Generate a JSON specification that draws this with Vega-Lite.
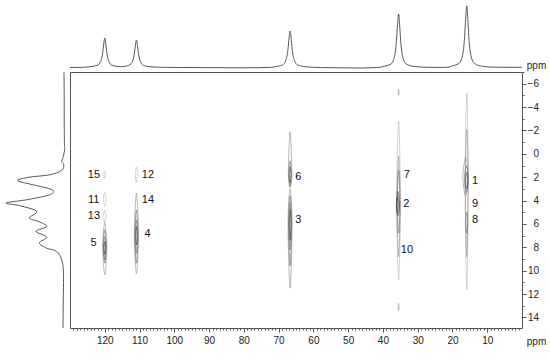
{
 "$schema": "https://vega.github.io/schema/vega-lite/v6.json",
 "background": "white",
 "padding": {"left": 0, "top": 3, "right": 0, "bottom": 4},
 "config": {"view": {"stroke": null}, "font": "Liberation Sans"},
 "columns": 2,
 "spacing": 3,
 "bounds": "flush",
 "concat": [
  {
   "width": 67, "height": 66,
   "data": {"values": [{"a": 0}]},
   "mark": {"type": "point", "opacity": 0},
   "encoding": {}
  },
  {
   "width": 452, "height": 66,
   "data": {"values": [
    {"x":130,"v":1.5},{"x":127,"v":1.6},
    {"x":124.5,"v":2.2},{"x":122.2,"v":3.6},{"x":121.2,"v":7.4},{"x":120.6,"v":16.2},{"x":120.3,"v":25},{"x":120,"v":31},{"x":119.7,"v":25},{"x":119.4,"v":16.2},{"x":118.8,"v":7.4},{"x":117.8,"v":3.6},{"x":115.5,"v":2.3},
    {"x":113.4,"v":3.3},{"x":112.1,"v":7},{"x":111.5,"v":15.3},{"x":111.2,"v":23.5},{"x":110.9,"v":29},{"x":110.6,"v":23.5},{"x":110.3,"v":15.3},{"x":109.7,"v":7},{"x":108.7,"v":3.3},{"x":106.4,"v":2.1},
    {"x":102,"v":1.6},{"x":98,"v":1.5},{"x":90,"v":1.4},{"x":82,"v":1.2},{"x":76,"v":1.3},{"x":72,"v":1.6},
    {"x":71.2,"v":2.2},{"x":68.9,"v":4.0},{"x":67.9,"v":8.8},{"x":67.3,"v":19.8},{"x":67.0,"v":30.7},{"x":66.7,"v":38},{"x":66.4,"v":30.7},{"x":66.1,"v":19.8},{"x":65.5,"v":8.8},{"x":64.5,"v":4.0},{"x":62.2,"v":2.2},
    {"x":58,"v":1.5},{"x":55,"v":1.3},{"x":50,"v":1.1},{"x":46,"v":1.0},{"x":43,"v":1.3},{"x":41,"v":1.6},
    {"x":40.0,"v":2.5},{"x":37.7,"v":5.0},{"x":36.7,"v":12.2},{"x":36.1,"v":28.3},{"x":35.8,"v":44.3},{"x":35.5,"v":55},{"x":35.2,"v":44.3},{"x":34.9,"v":28.3},{"x":34.3,"v":12.2},{"x":33.3,"v":5.0},{"x":31.0,"v":2.5},
    {"x":27,"v":1.7},{"x":23,"v":1.6},{"x":21,"v":1.8},
    {"x":20.4,"v":2.7},{"x":18.1,"v":5.6},{"x":17.1,"v":13.8},{"x":16.5,"v":32.3},{"x":16.2,"v":50.7},{"x":15.9,"v":63},{"x":15.6,"v":50.7},{"x":15.3,"v":32.3},{"x":14.7,"v":13.8},{"x":13.7,"v":5.6},{"x":11.4,"v":2.7},
    {"x":8,"v":1.8},{"x":4,"v":1.7},{"x":0,"v":1.7}
   ]},
   "mark": {"type": "line", "interpolate": "monotone", "color": "#444", "strokeWidth": 0.9},
   "encoding": {
    "x": {"field": "x", "type": "quantitative", "scale": {"domain": [0, 130], "reverse": true, "nice": false, "zero": false}, "axis": null},
    "y": {"field": "v", "type": "quantitative", "scale": {"domain": [0, 66], "nice": false}, "axis": null},
    "order": {"field": "x", "sort": "descending"}
   }
  },
  {
   "width": 67, "height": 256,
   "data": {"values": [
    {"y":-7,"v":3},{"y":-5,"v":2.8},{"y":-3,"v":2.8},{"y":-1,"v":2.6},{"y":-0.46,"v":2.2},{"y":0.22,"v":3.7},{"y":0.65,"v":5.3},{"y":0.93,"v":3.2},{"y":1.41,"v":5.3},{"y":1.79,"v":17},{"y":1.99,"v":37},{"y":2.28,"v":49.5},{"y":2.59,"v":37},{"y":3.0,"v":17},{"y":3.3,"v":13.7},{"y":3.58,"v":20.3},{"y":3.93,"v":40.3},{"y":4.21,"v":61},{"y":4.44,"v":47},{"y":4.92,"v":30.3},{"y":5.49,"v":37.7},{"y":5.78,"v":28.7},{"y":6.21,"v":20.3},{"y":6.63,"v":31},{"y":7.12,"v":20.3},{"y":7.63,"v":27.7},{"y":8.07,"v":20.3},{"y":8.35,"v":10.3},{"y":9.07,"v":5.3},{"y":9.92,"v":3.7},{"y":11,"v":3.5},{"y":13,"v":3.8},{"y":14.9,"v":4}
   ]},
   "mark": {"type": "line", "interpolate": "cardinal", "color": "#444", "strokeWidth": 0.9},
   "encoding": {
    "x": {"field": "v", "type": "quantitative", "scale": {"domain": [0, 67], "reverse": true, "nice": false}, "axis": null},
    "y": {"field": "y", "type": "quantitative", "scale": {"domain": [-7, 14.9], "reverse": true, "nice": false, "zero": false}, "axis": null},
    "order": {"field": "y"}
   }
  },
  {
   "width": 452, "height": 256,
   "view": {"stroke": "#555", "strokeWidth": 1},
   "layer": [
    {
     "data": {"values": [
      {"c":"A1","l":1,"o":0,"x":120,"y":1.5},{"c":"A1","l":1,"o":1,"x":119.75,"y":1.8},{"c":"A1","l":1,"o":2,"x":120,"y":2.1},{"c":"A1","l":1,"o":3,"x":120.25,"y":1.8},
      {"c":"A2","l":1,"o":0,"x":120,"y":3.3},{"c":"A2","l":1,"o":1,"x":119.65,"y":3.9},{"c":"A2","l":1,"o":2,"x":120,"y":4.5},{"c":"A2","l":1,"o":3,"x":120.35,"y":3.9},
      {"c":"A3","l":1,"o":0,"x":120,"y":4.8},{"c":"A3","l":1,"o":1,"x":119.65,"y":5.35},{"c":"A3","l":1,"o":2,"x":120,"y":5.9},{"c":"A3","l":1,"o":3,"x":120.35,"y":5.35},
      {"c":"A4","l":2,"o":0,"x":120,"y":5.9},{"c":"A4","l":2,"o":1,"x":119.4,"y":8.0},{"c":"A4","l":2,"o":2,"x":120,"y":10.35},{"c":"A4","l":2,"o":3,"x":120.6,"y":8.0},
      {"c":"A5","l":3,"o":0,"x":120,"y":6.5},{"c":"A5","l":3,"o":1,"x":119.55,"y":7.9},{"c":"A5","l":3,"o":2,"x":120,"y":9.35},{"c":"A5","l":3,"o":3,"x":120.45,"y":7.9},
      {"c":"A6","l":3,"o":0,"x":120,"y":7.07},{"c":"A6","l":3,"o":1,"x":119.68,"y":8.0},{"c":"A6","l":3,"o":2,"x":120,"y":9.07},{"c":"A6","l":3,"o":3,"x":120.32,"y":8.0},
      {"c":"A7","l":4,"o":0,"x":120,"y":7.5},{"c":"A7","l":4,"o":1,"x":119.8,"y":8.05},{"c":"A7","l":4,"o":2,"x":120,"y":8.6},{"c":"A7","l":4,"o":3,"x":120.2,"y":8.05},
      {"c":"B1","l":1,"o":0,"x":110.9,"y":1.13},{"c":"B1","l":1,"o":1,"x":110.6,"y":1.8},{"c":"B1","l":1,"o":2,"x":110.9,"y":2.44},{"c":"B1","l":1,"o":3,"x":111.2,"y":1.8},
      {"c":"B2","l":2,"o":0,"x":110.9,"y":3.36},{"c":"B2","l":2,"o":1,"x":110.3,"y":6.9},{"c":"B2","l":2,"o":2,"x":110.9,"y":10.26},{"c":"B2","l":2,"o":3,"x":111.5,"y":6.9},
      {"c":"B3","l":3,"o":0,"x":110.9,"y":4.8},{"c":"B3","l":3,"o":1,"x":110.45,"y":7.0},{"c":"B3","l":3,"o":2,"x":110.9,"y":9.35},{"c":"B3","l":3,"o":3,"x":111.35,"y":7.0},
      {"c":"B4","l":3,"o":0,"x":110.9,"y":5.65},{"c":"B4","l":3,"o":1,"x":110.58,"y":7.0},{"c":"B4","l":3,"o":2,"x":110.9,"y":8.5},{"c":"B4","l":3,"o":3,"x":111.22,"y":7.0},
      {"c":"B5","l":4,"o":0,"x":110.9,"y":6.2},{"c":"B5","l":4,"o":1,"x":110.7,"y":7.0},{"c":"B5","l":4,"o":2,"x":110.9,"y":7.8},{"c":"B5","l":4,"o":3,"x":111.1,"y":7.0},
      {"c":"C1","l":2,"o":0,"x":66.7,"y":-1.9},{"c":"C1","l":2,"o":1,"x":66.2,"y":1.5},{"c":"C1","l":2,"o":2,"x":66.7,"y":2.9},{"c":"C1","l":2,"o":3,"x":67.2,"y":1.5},
      {"c":"C2","l":3,"o":0,"x":66.7,"y":0.6},{"c":"C2","l":3,"o":1,"x":66.32,"y":1.8},{"c":"C2","l":3,"o":2,"x":66.7,"y":2.8},{"c":"C2","l":3,"o":3,"x":67.08,"y":1.8},
      {"c":"C3","l":4,"o":0,"x":66.7,"y":1.1},{"c":"C3","l":4,"o":1,"x":66.48,"y":1.8},{"c":"C3","l":4,"o":2,"x":66.7,"y":2.5},{"c":"C3","l":4,"o":3,"x":66.92,"y":1.8},
      {"c":"C4","l":2,"o":0,"x":66.7,"y":3.0},{"c":"C4","l":2,"o":1,"x":66.1,"y":6.0},{"c":"C4","l":2,"o":2,"x":66.7,"y":11.5},{"c":"C4","l":2,"o":3,"x":67.3,"y":6.0},
      {"c":"C5","l":3,"o":0,"x":66.7,"y":3.6},{"c":"C5","l":3,"o":1,"x":66.25,"y":6.0},{"c":"C5","l":3,"o":2,"x":66.7,"y":9.6},{"c":"C5","l":3,"o":3,"x":67.15,"y":6.0},
      {"c":"C6","l":3,"o":0,"x":66.7,"y":4.2},{"c":"C6","l":3,"o":1,"x":66.37,"y":6.0},{"c":"C6","l":3,"o":2,"x":66.7,"y":8.2},{"c":"C6","l":3,"o":3,"x":67.03,"y":6.0},
      {"c":"C7","l":4,"o":0,"x":66.7,"y":4.8},{"c":"C7","l":4,"o":1,"x":66.5,"y":6.0},{"c":"C7","l":4,"o":2,"x":66.7,"y":7.4},{"c":"C7","l":4,"o":3,"x":66.9,"y":6.0},
      {"c":"D1","l":2,"o":0,"x":35.5,"y":-5.5},{"c":"D1","l":2,"o":1,"x":35.38,"y":-5.25},{"c":"D1","l":2,"o":2,"x":35.5,"y":-5.0},{"c":"D1","l":2,"o":3,"x":35.62,"y":-5.25},
      {"c":"D2","l":2,"o":0,"x":35.5,"y":12.8},{"c":"D2","l":2,"o":1,"x":35.38,"y":13.1},{"c":"D2","l":2,"o":2,"x":35.5,"y":13.4},{"c":"D2","l":2,"o":3,"x":35.62,"y":13.1},
      {"c":"D3","l":1,"o":0,"x":35.5,"y":-2.8},{"c":"D3","l":1,"o":1,"x":34.95,"y":4.2},{"c":"D3","l":1,"o":2,"x":35.5,"y":10.8},{"c":"D3","l":1,"o":3,"x":36.05,"y":4.2},
      {"c":"D4","l":2,"o":0,"x":35.5,"y":0.2},{"c":"D4","l":2,"o":1,"x":35.05,"y":4.4},{"c":"D4","l":2,"o":2,"x":35.5,"y":8.8},{"c":"D4","l":2,"o":3,"x":35.95,"y":4.4},
      {"c":"D5","l":3,"o":0,"x":35.5,"y":1.4},{"c":"D5","l":3,"o":1,"x":35.12,"y":4.2},{"c":"D5","l":3,"o":2,"x":35.5,"y":6.8},{"c":"D5","l":3,"o":3,"x":35.88,"y":4.2},
      {"c":"D6","l":4,"o":0,"x":35.7,"y":3.2},{"c":"D6","l":4,"o":1,"x":35.25,"y":4.4},{"c":"D6","l":4,"o":2,"x":35.7,"y":5.3},{"c":"D6","l":4,"o":3,"x":36.15,"y":4.4},
      {"c":"D7","l":4,"o":0,"x":35.8,"y":3.7},{"c":"D7","l":4,"o":1,"x":35.52,"y":4.4},{"c":"D7","l":4,"o":2,"x":35.8,"y":5.0},{"c":"D7","l":4,"o":3,"x":36.08,"y":4.4},
      {"c":"E1","l":1,"o":0,"x":15.9,"y":-5.2},{"c":"E1","l":1,"o":1,"x":15.45,"y":2.5},{"c":"E1","l":1,"o":2,"x":15.9,"y":11.6},{"c":"E1","l":1,"o":3,"x":16.35,"y":2.5},
      {"c":"E2","l":2,"o":0,"x":15.9,"y":-2.1},{"c":"E2","l":2,"o":1,"x":15.5,"y":2.5},{"c":"E2","l":2,"o":2,"x":15.9,"y":8.8},{"c":"E2","l":2,"o":3,"x":16.3,"y":2.5},
      {"c":"E3","l":2,"o":0,"x":16.2,"y":0.3},{"c":"E3","l":2,"o":1,"x":15.4,"y":2.0},{"c":"E3","l":2,"o":2,"x":16.2,"y":3.6},{"c":"E3","l":2,"o":3,"x":17.0,"y":2.0},
      {"c":"E4","l":3,"o":0,"x":16.0,"y":1.0},{"c":"E4","l":3,"o":1,"x":15.5,"y":2.2},{"c":"E4","l":3,"o":2,"x":16.0,"y":3.3},{"c":"E4","l":3,"o":3,"x":16.5,"y":2.2},
      {"c":"E5","l":4,"o":0,"x":15.9,"y":1.6},{"c":"E5","l":4,"o":1,"x":15.6,"y":2.3},{"c":"E5","l":4,"o":2,"x":15.9,"y":3.0},{"c":"E5","l":4,"o":3,"x":16.2,"y":2.3},
      {"c":"E6","l":3,"o":0,"x":15.9,"y":5.0},{"c":"E6","l":3,"o":1,"x":15.6,"y":5.9},{"c":"E6","l":3,"o":2,"x":15.9,"y":6.8},{"c":"E6","l":3,"o":3,"x":16.2,"y":5.9}
     ]},
     "mark": {"type": "line", "interpolate": "cardinal-closed", "strokeWidth": 0.6},
     "encoding": {
      "x": {"field": "x", "type": "quantitative", "scale": {"domain": [0, 130], "reverse": true, "nice": false, "zero": false},
       "axis": {"orient": "bottom", "values": [120,110,100,90,80,70,60,50,40,30,20,10], "domain": false, "grid": false, "tickSize": 4, "tickColor": "#555", "labelFontSize": 10, "labelColor": "#222", "labelPadding": 3, "labelFlush": false, "labelOverlap": false,
        "title": "ppm", "titleFontSize": 10, "titleFontWeight": "normal", "titleColor": "#222", "titleX": 466, "titleY": 13.5, "titleAlign": "center", "titleBaseline": "middle", "titleAngle": 0}},
      "y": {"field": "y", "type": "quantitative", "scale": {"domain": [-7, 14.9], "reverse": true, "nice": false, "zero": false},
       "axis": {"orient": "right", "values": [-6,-4,-2,0,2,4,6,8,10,12,14], "domain": false, "grid": false, "tickSize": 4, "tickColor": "#555", "labelFontSize": 10, "labelColor": "#222", "labelAlign": "right", "labelBaseline": "middle", "labelPadding": 12.5, "labelFlush": false, "labelOverlap": false,
        "title": "ppm", "titleFontSize": 10, "titleFontWeight": "normal", "titleColor": "#222", "titleX": 14, "titleY": -7, "titleAlign": "center", "titleBaseline": "middle", "titleAngle": 0}},
      "detail": {"field": "c"},
      "order": {"field": "o"},
      "color": {"field": "l", "type": "ordinal", "scale": {"domain": [1, 2, 3, 4], "range": ["#b4b4b4", "#8c8c8c", "#626262", "#333333"]}, "legend": null}
     }
    },
    {
     "data": {"values": [
      {"t":"15","x":123.1,"y":1.8},{"t":"11","x":123.2,"y":3.95},{"t":"13","x":123.1,"y":5.3},{"t":"5","x":123.2,"y":7.65},
      {"t":"12","x":107.6,"y":1.8},{"t":"14","x":107.6,"y":3.95},{"t":"4","x":107.7,"y":6.85},
      {"t":"6","x":64.3,"y":1.95},{"t":"3","x":64.3,"y":5.7},
      {"t":"7","x":33.1,"y":1.8},{"t":"2","x":33.3,"y":4.3},{"t":"10","x":33.1,"y":8.2},
      {"t":"1","x":13.5,"y":2.35},{"t":"9","x":13.5,"y":4.3},{"t":"8","x":13.5,"y":5.7}
     ]},
     "mark": {"type": "text", "fontSize": 11, "font": "Liberation Sans", "color": "#111", "align": "center", "baseline": "middle"},
     "encoding": {
      "x": {"field": "x", "type": "quantitative", "scale": {"domain": [0, 130], "reverse": true, "nice": false, "zero": false},
       "axis": {"orient": "bottom", "values": [1,2,3,4,5,6,7,8,9,10,11,12,13,14,15,16,17,18,19,20,21,22,23,24,25,26,27,28,29,30,31,32,33,34,35,36,37,38,39,40,41,42,43,44,45,46,47,48,49,50,51,52,53,54,55,56,57,58,59,60,61,62,63,64,65,66,67,68,69,70,71,72,73,74,75,76,77,78,79,80,81,82,83,84,85,86,87,88,89,90,91,92,93,94,95,96,97,98,99,100,101,102,103,104,105,106,107,108,109,110,111,112,113,114,115,116,117,118,119,120,121,122,123,124,125,126,127,128,129], "labels": false, "domain": false, "grid": false, "tickSize": 2, "tickColor": "#555", "title": null}},
      "y": {"field": "y", "type": "quantitative", "scale": {"domain": [-7, 14.9], "reverse": true, "nice": false, "zero": false},
       "axis": {"orient": "right", "values": [-7,-6,-5,-4,-3,-2,-1,0,1,2,3,4,5,6,7,8,9,10,11,12,13,14], "labels": false, "domain": false, "grid": false, "tickSize": 2, "tickColor": "#555", "title": null}},
      "text": {"field": "t"}
     }
    }
   ],
   "resolve": {"axis": {"x": "independent", "y": "independent"}}
  }
 ]
}
